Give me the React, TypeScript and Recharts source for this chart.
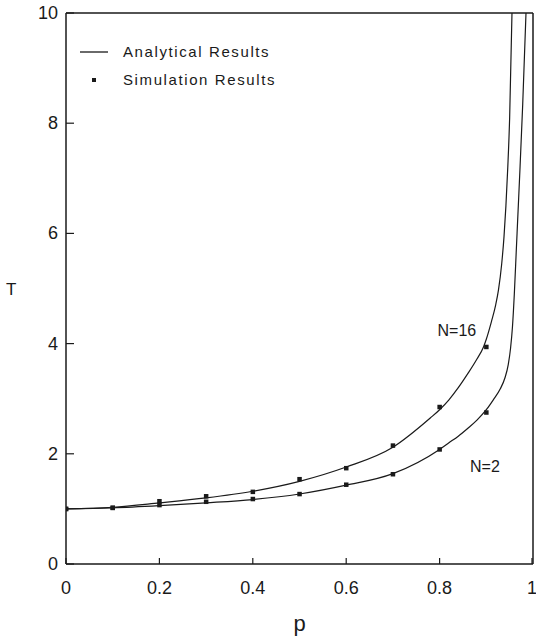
import React from 'react'
import {
    ComposedChart,
    Line,
    Scatter,
    XAxis,
    YAxis,
    ReferenceLine,
    ReferenceDot,
    Legend
} from 'recharts'

// analytical curves
const n16CurveP = [0, 0.1, 0.2, 0.3, 0.4, 0.5, 0.6, 0.7, 0.78, 0.8, 0.82, 0.84, 0.86, 0.88, 0.894, 0.9, 0.911, 0.92, 0.926, 0.933, 0.938, 0.942, 0.946, 0.95, 0.955]
const n16CurveT = [1.0, 1.03, 1.11, 1.2, 1.32, 1.5, 1.76, 2.12, 2.65, 2.8, 2.98, 3.2, 3.45, 3.72, 3.94, 4.08, 4.4, 4.7, 4.97, 5.45, 5.95, 6.5, 7.2, 8.1, 10]

const n2CurveP = [0, 0.1, 0.2, 0.3, 0.4, 0.5, 0.6, 0.7, 0.8, 0.82, 0.84, 0.86, 0.88, 0.9, 0.915, 0.93, 0.94, 0.947, 0.952, 0.956, 0.96, 0.964, 0.968, 0.972, 0.978, 0.985]
const n2CurveT = [1.0, 1.02, 1.06, 1.11, 1.17, 1.27, 1.43, 1.64, 2.08, 2.2, 2.32, 2.46, 2.61, 2.8, 2.98, 3.18, 3.38, 3.62, 3.92, 4.3, 4.9, 5.65, 6.4, 7.15, 8.35, 10]

// simulation points
const simP = [0, 0.1, 0.2, 0.3, 0.4, 0.5, 0.6, 0.7, 0.8, 0.9]
const n16SimT = [1.0, 1.02, 1.14, 1.23, 1.31, 1.54, 1.74, 2.15, 2.85, 3.94]
const n2SimT = [1.0, 1.02, 1.07, 1.13, 1.18, 1.27, 1.44, 1.63, 2.08, 2.75]

const xTicks = [0, 0.2, 0.4, 0.6, 0.8, 1]
const yTicks = [0, 2, 4, 6, 8, 10]

const zip = (ps: number[], ts: number[]) => ps.map((p, i) => ({ p, T: ts[i] }))

const n16Curve = zip(n16CurveP, n16CurveT)
const n2Curve = zip(n2CurveP, n2CurveT)
const n16Sim = zip(simP, n16SimT)
const n2Sim = zip(simP, n2SimT)

const FONT = '"Liberation Sans", Arial, sans-serif'
const INK = '#1a1a1a'

const YTick = ({ x, y, payload }: any) => (
    <g>
        <line x1={x} x2={x + 8} y1={y} y2={y} stroke={INK} strokeWidth={1.2} />
        <text x={x - 8} y={y} dy={6} textAnchor="end" fontSize={18} fontFamily={FONT} fill={INK}>
            {payload.value}
        </text>
    </g>
)

const XTick = ({ x, y, payload }: any) => (
    <g>
        <line x1={x} x2={x} y1={y} y2={y - 6} stroke={INK} strokeWidth={1.2} />
        <text x={x} y={y + 30} textAnchor="middle" fontSize={18} fontFamily={FONT} fill={INK}>
            {payload.value}
        </text>
    </g>
)

const SimDot = ({ cx, cy }: any) => (
    <rect x={cx - 2.2} y={cy - 2.2} width={4.5} height={4.5} fill={INK} />
)

const LegendBox = () => (
    <div style={{ fontFamily: FONT, fontSize: 15, letterSpacing: 1.6, color: INK, lineHeight: '28px' }}>
        <div style={{ display: 'flex', alignItems: 'center' }}>
            <svg width={43} height={10}>
                <line x1={0} x2={28} y1={5} y2={5} stroke={INK} strokeWidth={1.3} />
            </svg>
            <span>Analytical Results</span>
        </div>
        <div style={{ display: 'flex', alignItems: 'center' }}>
            <svg width={43} height={10}>
                <rect x={12} y={3} width={4} height={4} fill={INK} />
            </svg>
            <span>Simulation Results</span>
        </div>
    </div>
)

export default function App() {
    return (
        <div style={{ position: 'absolute', left: 0, top: 0, background: '#fff' }}>
            <ComposedChart width={536} height={643} margin={{ top: 13, right: 3, left: 0, bottom: 0 }}>
                <XAxis
                    dataKey="p"
                    type="number"
                    domain={[0, 1]}
                    ticks={xTicks}
                    allowDataOverflow
                    height={79}
                    tickSize={0}
                    tickMargin={0}
                    tick={<XTick />}
                    axisLine={{ stroke: INK, strokeWidth: 1.5 }}
                    label={{ value: 'p', position: 'insideBottom', offset: 12, fontSize: 22, fontFamily: FONT, fill: INK }}
                />
                <YAxis
                    dataKey="T"
                    type="number"
                    domain={[0, 10]}
                    ticks={yTicks}
                    allowDataOverflow
                    width={66}
                    tickSize={0}
                    tickMargin={0}
                    tick={<YTick />}
                    axisLine={{ stroke: INK, strokeWidth: 1.5 }}
                    label={{ value: 'T', position: 'insideLeft', angle: 0, offset: 6, fontSize: 17, fontFamily: FONT, fill: INK }}
                />
                <ReferenceLine y={10} stroke={INK} strokeWidth={1.5} />
                <ReferenceLine x={1} stroke={INK} strokeWidth={1.5} />
                <Legend
                    layout="horizontal"
                    verticalAlign="middle"
                    align="center"
                    content={<LegendBox />}
                    wrapperStyle={{ top: 38, left: 80, width: 260 }}
                />
                <Line data={n16Curve} dataKey="T" type="monotone" stroke={INK} strokeWidth={1.2} dot={false} isAnimationActive={false} legendType="none" />
                <Line data={n2Curve} dataKey="T" type="monotone" stroke={INK} strokeWidth={1.2} dot={false} isAnimationActive={false} legendType="none" />
                <Scatter data={n16Sim} dataKey="T" shape={<SimDot />} isAnimationActive={false} legendType="none" />
                <Scatter data={n2Sim} dataKey="T" shape={<SimDot />} isAnimationActive={false} legendType="none" />
                <ReferenceDot x={0.837} y={4.25} r={0} label={{ value: 'N=16', position: 'center', fontSize: 16, fontFamily: FONT, fill: INK }} />
                <ReferenceDot x={0.897} y={1.78} r={0} label={{ value: 'N=2', position: 'center', fontSize: 16, fontFamily: FONT, fill: INK }} />
            </ComposedChart>
        </div>
    )
}
